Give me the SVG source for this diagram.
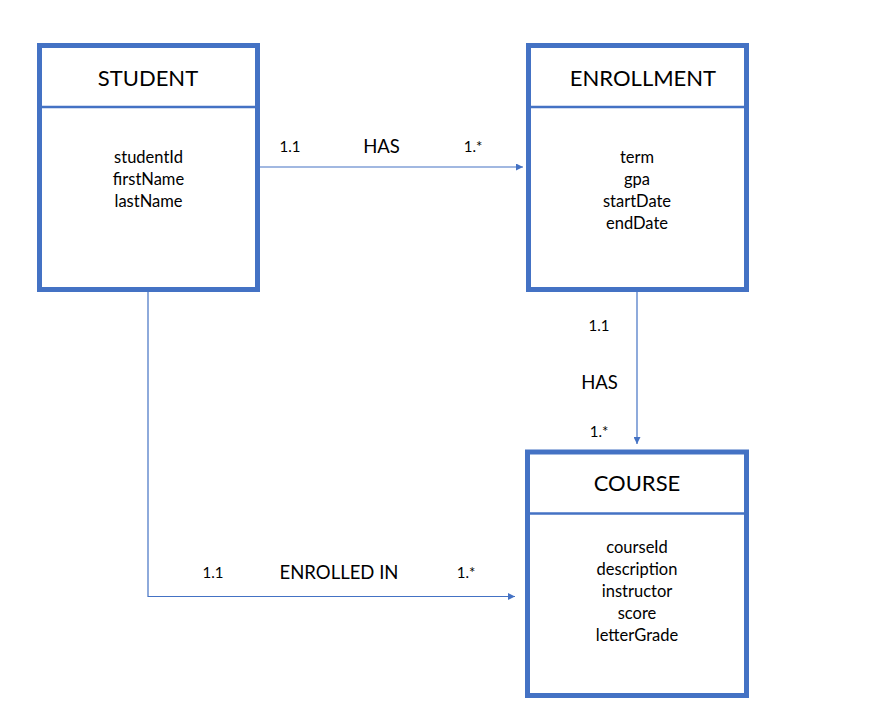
<svg xmlns="http://www.w3.org/2000/svg" width="896" height="715" viewBox="0 0 896 715">
<style>
.box{fill:#fff;stroke:#4472C4;stroke-width:5}
.div{stroke:#4472C4;stroke-width:2.5}
.title{font-family:Lato,"Open Sans",sans-serif;font-size:22px;fill:#000;text-anchor:middle}
.attr{font-family:Lato,"Open Sans",sans-serif;font-size:16.5px;fill:#000;text-anchor:middle}
.card{font-family:Lato,"Open Sans",sans-serif;font-size:15px;fill:#000;text-anchor:middle}
.rel{font-family:Lato,"Open Sans",sans-serif;font-size:18.5px;fill:#000;text-anchor:middle}
.conn{fill:none;stroke:#4472C4;stroke-width:1.2}
</style>
<defs>
<marker id="arr" viewBox="0 0 10 10" refX="10" refY="5" markerWidth="8" markerHeight="7" markerUnits="userSpaceOnUse" orient="auto">
<path d="M0,0 L10,5 L0,10 Z" fill="#4472C4"/>
</marker>
</defs>
<rect width="896" height="715" fill="#fff"/>
<g id="connectors">
<line class="conn" x1="260" y1="167" x2="523" y2="167" marker-end="url(#arr)"/>
<line class="conn" x1="637" y1="292" x2="637" y2="444" marker-end="url(#arr)"/>
<polyline class="conn" points="148,292 148,596.5 515,596.5" marker-end="url(#arr)"/>
<text class="card" x="290" y="152">1.1</text>
<text class="rel" x="381.5" y="153">HAS</text>
<text class="card" x="473" y="152">1.*</text>
<text class="card" x="599" y="331">1.1</text>
<text class="rel" x="599.5" y="389">HAS</text>
<text class="card" x="599" y="437">1.*</text>
<text class="card" x="213" y="578">1.1</text>
<text class="rel" x="339" y="579">ENROLLED IN</text>
<text class="card" x="466" y="578">1.*</text>
</g>
<g id="student">
<rect class="box" x="39.5" y="45.5" width="218" height="244"/>
<line class="div" x1="42" y1="107" x2="255" y2="107"/>
<text class="title" x="148" y="86">STUDENT</text>
<text class="attr" x="148.5" y="162.5">studentId</text>
<text class="attr" x="148.5" y="184.5">firstName</text>
<text class="attr" x="148.5" y="206.5">lastName</text>
</g>
<g id="enrollment">
<rect class="box" x="528.5" y="45.5" width="218" height="244"/>
<line class="div" x1="531" y1="107" x2="744" y2="107"/>
<text class="title" x="643" y="86">ENROLLMENT</text>
<text class="attr" x="637" y="162.5">term</text>
<text class="attr" x="637" y="184.5">gpa</text>
<text class="attr" x="637" y="206.5">startDate</text>
<text class="attr" x="637" y="228.5">endDate</text>
</g>
<g id="course">
<rect class="box" x="527.5" y="452" width="219" height="243.5"/>
<line class="div" x1="530" y1="513.5" x2="744" y2="513.5"/>
<text class="title" x="637" y="491">COURSE</text>
<text class="attr" x="637" y="552.5">courseId</text>
<text class="attr" x="637" y="574.5">description</text>
<text class="attr" x="637" y="596.5">instructor</text>
<text class="attr" x="637" y="618.5">score</text>
<text class="attr" x="637" y="640.5">letterGrade</text>
</g>
</svg>
